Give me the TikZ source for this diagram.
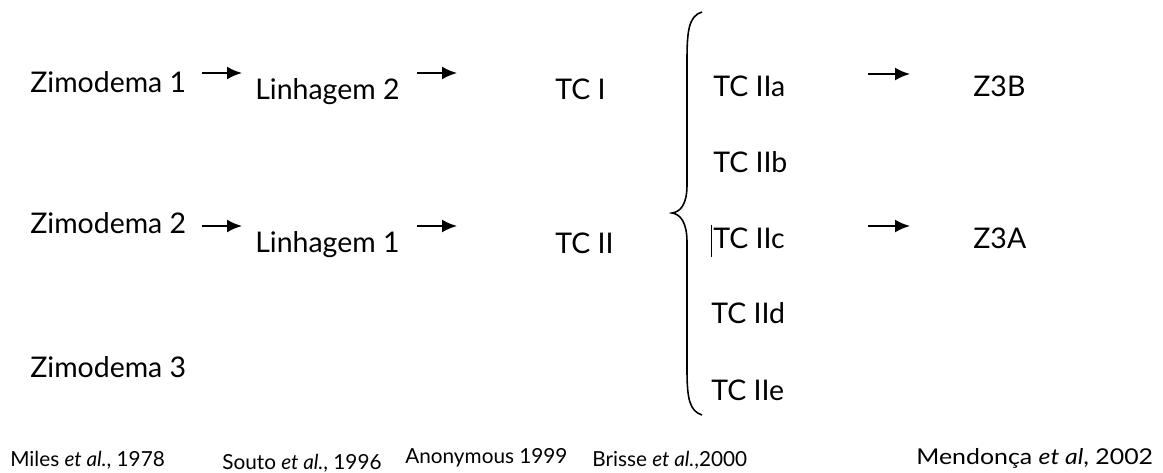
\documentclass[tikz,border=0pt]{standalone}
\usepackage{fontspec}
\setmainfont{Lato}
\usetikzlibrary{arrows.meta}
\tikzset{
	lbl/.style={anchor=base west, inner sep=0pt, font=\fontsize{16.2}{19}\selectfont},
	ref/.style={anchor=base west, inner sep=0pt, font=\fontsize{11.8}{13}\selectfont},
	arr/.style={draw=black, line width=1.2pt, -{Latex[length=0.3cm,width=0.26cm]}}
}
\begin{document}
\begin{tikzpicture}[x=0.02cm, y=-0.02cm]
		\useasboundingbox (0,0) rectangle (1163,473);
		% first column
		\node[lbl] (zim1) at (30,92) {Zimodema 1};
		\node[lbl] (zim2) at (30,233) {Zimodema 2};
		\node[lbl] (zim3) at (30,377) {Zimodema 3};
		% second column
		\node[lbl] (lin2) at (255,100) {Linhagem 2};
		\node[lbl] (lin1) at (255,252) {Linhagem 1};
		% third column
		\node[lbl] (tc1) at (555,100) {TC I};
		\node[lbl] (tc2) at (555,253) {TC II};
		% subgroups
		\node[lbl] (tc2a) at (713,97) {TC IIa};
		\node[lbl] (tc2b) at (713,173) {TC IIb};
		\node[lbl] (tc2c) at (713,248) {TC IIc};
		\node[lbl] (tc2d) at (711,323) {TC IId};
		\node[lbl] (tc2e) at (711,400) {TC IIe};
		\node[lbl] (z3b) at (973,97) {Z3B};
		\node[lbl] (z3a) at (973,248) {Z3A};
		% arrows
		\coordinate (a1s) at (202,73);  \coordinate (a1e) at (242,73);
		\coordinate (a2s) at (417,73);  \coordinate (a2e) at (457,73);
		\coordinate (a3s) at (202,226); \coordinate (a3e) at (242,226);
		\coordinate (a4s) at (417,226); \coordinate (a4e) at (457,226);
		\coordinate (a5s) at (868,74);  \coordinate (a5e) at (910,74);
		\coordinate (a6s) at (868,226); \coordinate (a6e) at (910,226);
		\draw[arr] (a1s) -- (a1e);
		\draw[arr] (a2s) -- (a2e);
		\draw[arr] (a3s) -- (a3e);
		\draw[arr] (a4s) -- (a4e);
		\draw[arr] (a5s) -- (a5e);
		\draw[arr] (a6s) -- (a6e);
		% brace
		\draw[draw=black, line width=0.9pt] (702,12) .. controls (689,16) and (687,30) .. (687,60)
			-- (687,185) .. controls (687,205) and (680,212) .. (672,213)
			.. controls (680,214) and (687,222) .. (687,242)
			-- (687,370) .. controls (687,400) and (690,411) .. (702,415);
		\draw[draw=black, thin] (711,225) -- (711,257);
		% references
		\node[ref] (r1) at (10,466) {Miles \textit{et al.}, 1978};
		\node[ref] (r2) at (222,469) {Souto \textit{et al.}, 1996};
		\node[ref] (r3) at (405,463) {Anonymous 1999};
		\node[ref] (r4) at (592,466) {Brisse \textit{et al.},2000};
		\node[ref] (r5) at (916,464) {\scalebox{1.2}[1.05]{Mendonça \textit{et al}, 2002}};
	\end{tikzpicture}
\end{document}
